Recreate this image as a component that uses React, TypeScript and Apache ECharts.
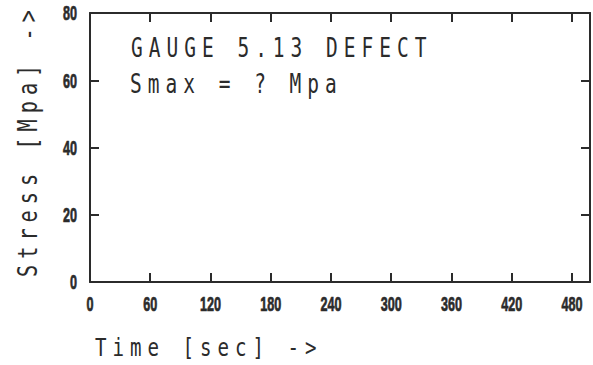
import React, { useEffect, useRef } from "react";
import * as echarts from "echarts";

// ---- data ----
const xTickValues = [0, 60, 120, 180, 240, 300, 360, 420, 480];
const yTickValues = [0, 20, 40, 60, 80];
const xAxisMin = 0;
const xAxisMax = 498;
const yAxisMin = 0;
const yAxisMax = 80;
const titleLines = ["GAUGE 5.13 DEFECT", "Smax = ? Mpa"];
const xAxisTitle = "Time [sec] ->";
const yAxisTitle = "Stress [Mpa] ->";
// no measured stress curve is drawn in the reference
const stressSeries: [number, number][] = [];

const INK = "#2b2b2b";
const TICK_FONT = "'Liberation Sans', Arial, sans-serif";
const PLOT_FONT = "DejaVu Sans Mono";

export default function App() {
  const ref = useRef<HTMLDivElement | null>(null);

  useEffect(() => {
    if (!ref.current) return;
    const chart = echarts.init(ref.current, undefined, { renderer: "svg" });

    const line = { show: true, onZero: false, lineStyle: { color: INK, width: 2 } };
    const tick = (vals: number[]) => ({
      show: true,
      inside: true,
      length: 9,
      customValues: vals,
      lineStyle: { color: INK, width: 2 },
    });

    const plotText = (text: string, size: number) => ({
      text,
      fontFamily: PLOT_FONT,
      fontSize: size,
      fill: INK,
      textAlign: "left",
      textVerticalAlign: "middle",
    });

    const tickText = (text: string, align: string) => ({
      text,
      fontFamily: TICK_FONT,
      fontSize: 21,
      fontWeight: "bold",
      fill: INK,
      stroke: INK,
      lineWidth: 0.7,
      textAlign: align,
      textVerticalAlign: "middle",
    });

    chart.setOption({
      animation: false,
      backgroundColor: "#ffffff",
      grid: { left: 90, top: 13, width: 500, height: 269, outerBoundsMode: "none" },
      xAxis: [
        {
          type: "value",
          position: "bottom",
          min: xAxisMin,
          max: xAxisMax,
          interval: 60,
          axisLine: line,
          axisTick: tick(xTickValues),
          axisLabel: { show: false },
          splitLine: { show: false },
        },
        {
          type: "value",
          position: "top",
          min: xAxisMin,
          max: xAxisMax,
          interval: 60,
          axisLine: line,
          axisTick: tick(xTickValues),
          axisLabel: { show: false },
          splitLine: { show: false },
        },
      ],
      yAxis: [
        {
          type: "value",
          position: "left",
          min: yAxisMin,
          max: yAxisMax,
          interval: 20,
          axisLine: line,
          axisTick: tick(yTickValues),
          axisLabel: { show: false },
          splitLine: { show: false },
        },
        {
          type: "value",
          position: "right",
          min: yAxisMin,
          max: yAxisMax,
          interval: 20,
          axisLine: line,
          axisTick: tick(yTickValues),
          axisLabel: { show: false },
          splitLine: { show: false },
        },
      ],
      series: [
        {
          type: "line",
          xAxisIndex: 0,
          yAxisIndex: 0,
          data: stressSeries,
          showSymbol: false,
          lineStyle: { color: INK, width: 2 },
        },
      ],
    });

    // condensed tick labels, placed through the axes' own scales
    const xLabels = xTickValues.map((v) => {
      const px = chart.convertToPixel({ xAxisIndex: 0 }, v) as number;
      return {
        type: "text",
        x: px,
        y: 304,
        scaleX: 0.6,
        style: tickText(String(v), "center"),
      };
    });
    const yLabels = yTickValues.map((v) => {
      const py = chart.convertToPixel({ yAxisIndex: 0 }, v) as number;
      return {
        type: "text",
        x: 77,
        y: py,
        scaleX: 0.6,
        style: tickText(String(v), "right"),
      };
    });

    chart.setOption({
      graphic: [
        ...xLabels,
        ...yLabels,
        { type: "text", x: 131, y: 48, scaleX: 0.75, style: plotText(titleLines[0], 26) },
        { type: "text", x: 130, y: 84, scaleX: 0.75, style: plotText(titleLines[1], 26) },
        { type: "text", x: 95, y: 347, scaleX: 0.75, style: plotText(xAxisTitle, 25.5) },
        {
          type: "text",
          x: 28,
          y: 277,
          rotation: Math.PI / 2,
          scaleX: 0.75,
          style: plotText(yAxisTitle, 27),
        },
      ],
    });

    return () => chart.dispose();
  }, []);

  return (
    <>
      <style>{`#gaugeChart text[style*='DejaVu Sans Mono']{letter-spacing:8px;}`}</style>
      <div
        id="gaugeChart"
        ref={ref}
        style={{ position: "absolute", left: 0, top: 0, width: 593, height: 365 }}
      />
    </>
  );
}
